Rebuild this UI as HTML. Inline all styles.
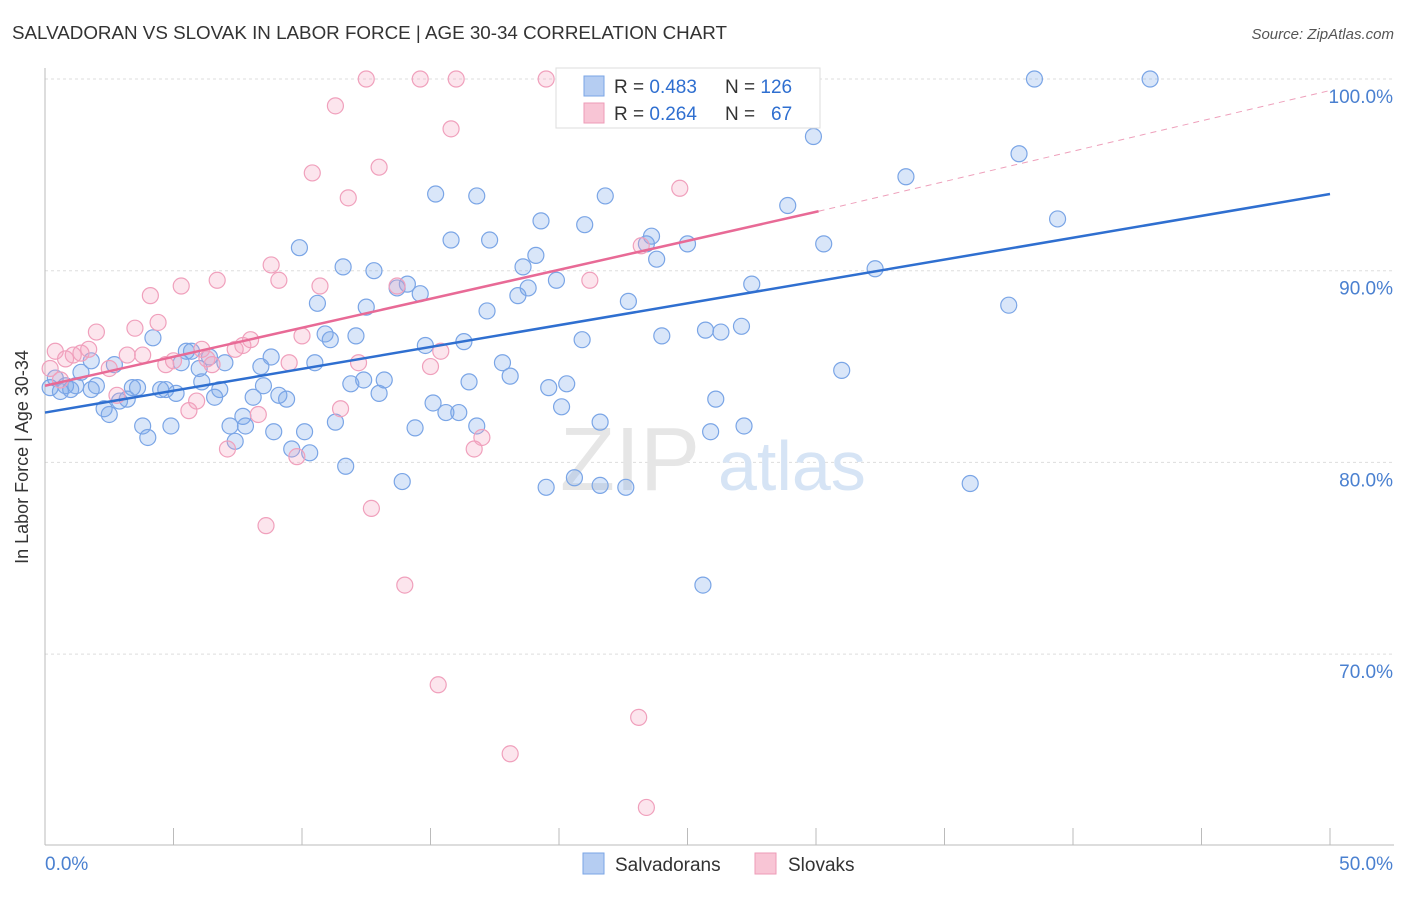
<!DOCTYPE html>
<html><head><meta charset="utf-8"><style>
body{margin:0;background:#fff;font-family:"Liberation Sans",sans-serif;}
svg text{font-family:"Liberation Sans",sans-serif;}
</style></head><body>
<svg id="chart" width="1406" height="892" xmlns="http://www.w3.org/2000/svg">
<text x="12" y="39" font-size="18.8" fill="#333">SALVADORAN VS SLOVAK IN LABOR FORCE | AGE 30-34 CORRELATION CHART</text>
<text x="1394" y="39" font-size="15" fill="#555" font-style="italic" text-anchor="end">Source: ZipAtlas.com</text>
<g id="grid"></g>
<text x="560" y="490" font-size="90" fill="#e6e6e6" font-family="Liberation Serif">ZIP</text>
<text x="718" y="490" font-size="70" fill="#d6e4f5">atlas</text>
<g id="axes"></g>
<g id="points"></g>
<g id="lines"></g>
<text x="28" y="457" font-size="18" fill="#333" text-anchor="middle" transform="rotate(-90 28 457)">In Labor Force | Age 30-34</text>
<g>
<rect x="556" y="68" width="264" height="60" fill="#fff" stroke="#ddd"/>
<rect x="584" y="76" width="20" height="20" fill="#b5cdf2" stroke="#7aa5e6"/>
<text x="614" y="93" font-size="19" fill="#333">R = <tspan fill="#2f6fd0">0.483</tspan></text>
<text x="725" y="93" font-size="19" fill="#333">N = <tspan fill="#2f6fd0">126</tspan></text>
<rect x="584" y="103" width="20" height="20" fill="#f8c5d5" stroke="#ee9bb7"/>
<text x="614" y="120" font-size="19" fill="#333">R = <tspan fill="#2f6fd0">0.264</tspan></text>
<text x="725" y="120" font-size="19" fill="#333">N = <tspan x="771" fill="#2f6fd0">67</tspan></text>
</g>
<g>
<rect x="583" y="853" width="21" height="21" fill="#b5cdf2" stroke="#7aa5e6"/>
<text x="615" y="871" font-size="19" fill="#333">Salvadorans</text>
<rect x="755" y="853" width="21" height="21" fill="#f8c5d5" stroke="#ee9bb7"/>
<text x="788" y="871" font-size="19" fill="#333">Slovaks</text>
</g>
</svg>
<script>
const blueX=[0.2,0.4,0.6,0.8,1.0,1.2,1.4,1.8,2.0,1.8,2.3,2.5,2.7,2.9,3.2,3.4,3.6,3.8,4.0,4.2,4.5,4.7,4.9,5.1,5.3,5.5,5.7,6.0,6.1,6.4,6.6,6.8,7.0,7.2,7.4,7.7,7.8,8.1,8.4,8.5,8.8,8.9,9.1,9.4,9.6,9.9,10.1,10.3,10.5,10.6,10.9,11.1,11.3,11.6,11.7,11.9,12.1,12.4,12.5,12.8,13.0,13.2,13.7,13.9,14.1,14.4,14.6,14.8,15.1,15.2,15.6,15.8,16.1,16.3,16.5,16.8,16.8,17.2,17.3,17.8,18.1,18.4,18.6,18.8,19.1,19.3,19.5,19.6,19.9,20.1,20.3,20.6,20.9,21.0,21.6,21.6,21.8,22.6,22.7,23.4,23.6,23.8,24.0,25.0,25.6,25.7,25.9,26.1,26.3,27.1,27.2,27.5,28.9,29.9,30.3,31.0,32.3,33.5,36.0,37.5,37.9,38.5,39.4,43.0];
const blueY=[83.9,84.4,83.7,84.0,83.8,84.0,84.7,83.8,84.0,85.3,82.8,82.5,85.1,83.2,83.3,83.9,83.9,81.9,81.3,86.5,83.8,83.8,81.9,83.6,85.2,85.8,85.8,84.9,84.2,85.5,83.4,83.8,85.2,81.9,81.1,82.4,81.9,83.4,85.0,84.0,85.5,81.6,83.5,83.3,80.7,91.2,81.6,80.5,85.2,88.3,86.7,86.4,82.1,90.2,79.8,84.1,86.6,84.3,88.1,90.0,83.6,84.3,89.1,79.0,89.3,81.8,88.8,86.1,83.1,94.0,82.6,91.6,82.6,86.3,84.2,81.9,93.9,87.9,91.6,85.2,84.5,88.7,90.2,89.1,90.8,92.6,78.7,83.9,89.5,82.9,84.1,79.2,86.4,92.4,82.1,78.8,93.9,78.7,88.4,91.4,91.8,90.6,86.6,91.4,73.6,86.9,81.6,83.3,86.8,87.1,81.9,89.3,93.4,97.0,91.4,84.8,90.1,94.9,78.9,88.2,96.1,100.0,92.7,100.0];
const pinkX=[0.2,0.4,0.6,0.8,1.1,1.4,1.7,2.0,2.5,2.8,3.2,3.5,3.8,4.1,4.4,4.7,5.0,5.3,5.6,5.9,6.1,6.3,6.5,6.7,7.1,7.4,7.7,8.0,8.3,8.6,8.8,9.1,9.5,9.8,10.0,10.4,10.7,11.3,11.5,11.8,12.2,12.5,12.7,13.0,13.7,14.0,14.6,15.0,15.3,15.4,15.8,16.0,16.7,17.0,18.1,19.5,20.6,20.7,21.2,23.1,23.4,24.7,27.4,28.2,23.2,23.8];
const pinkY=[84.9,85.8,84.3,85.4,85.6,85.7,85.9,86.8,84.9,83.5,85.6,87.0,85.6,88.7,87.3,85.1,85.3,89.2,82.7,83.2,85.9,85.4,85.1,89.5,80.7,85.9,86.1,86.4,82.5,76.7,90.3,89.5,85.2,80.3,86.6,95.1,89.2,98.6,82.8,93.8,85.2,100.0,77.6,95.4,89.2,73.6,100.0,85.0,68.4,85.8,97.4,100.0,80.7,81.3,64.8,100.0,100.0,100.0,89.5,66.7,62.0,94.3,100.0,100.0,91.3,100.0];
const yTicks=[100,90,80,70];
const yTickLabels=["100.0%","90.0%","80.0%","70.0%"];
const xTickVals=[0,5,10,15,20,25,30,35,40,45,50];
const blueLine=[[0,82.6],[50,94.0]];
const pinkLine=[[0,84.0],[30.1,93.1]];
const pinkDash=[[30.1,93.1],[50,99.4]];
const NS="http://www.w3.org/2000/svg";
const X=v=>45+v*25.7, Y=v=>79+(100-v)*19.17;
function mk(t,a,p){const e=document.createElementNS(NS,t);for(const k in a)e.setAttribute(k,a[k]);p.appendChild(e);return e;}
const grid=document.getElementById('grid'),axes=document.getElementById('axes'),pts=document.getElementById('points'),ln=document.getElementById('lines');
yTicks.forEach((v,i)=>{
 const l=mk('line',{x1:45,x2:1394,y1:Y(v),y2:Y(v),stroke:'#ddd','stroke-dasharray':'3,3'},grid);
 
 
 const t=mk('text',{x:1393,y:Y(v)+24,'font-size':19,fill:'#4a80d0','text-anchor':'end'},axes);t.textContent=yTickLabels[i];
 
 
});
let a=mk('line',{x1:45,x2:45,y1:68,y2:845,stroke:'#bbb'},axes);


a=mk('line',{x1:45,x2:1394,y1:845,y2:845,stroke:'#bbb'},axes);


xTickVals.forEach(v=>{const t=mk('line',{x1:X(v),x2:X(v),y1:828,y2:845,stroke:'#bbb'},axes);
 
 });
let t=mk('text',{x:45,y:870,'font-size':19,fill:'#4a80d0'},axes);t.textContent='0.0%';


t=mk('text',{x:1393,y:870,'font-size':19,fill:'#4a80d0','text-anchor':'end'},axes);t.textContent='50.0%';


blueX.forEach((x,i)=>{const c=mk('circle',{cx:X(x),cy:Y(blueY[i]),r:8,fill:'rgba(120,165,235,0.28)',stroke:'#7aa5e6','stroke-width':1.2},pts);
 
 });
pinkX.forEach((x,i)=>{const c=mk('circle',{cx:X(x),cy:Y(pinkY[i]),r:8,fill:'rgba(245,160,190,0.28)',stroke:'#f0a0bc','stroke-width':1.2},pts);
 
 });
let L=mk('line',{x1:X(blueLine[0][0]),y1:Y(blueLine[0][1]),x2:X(blueLine[1][0]),y2:Y(blueLine[1][1]),stroke:'#2f6fd0','stroke-width':2.5},ln);


L=mk('line',{x1:X(pinkLine[0][0]),y1:Y(pinkLine[0][1]),x2:X(pinkLine[1][0]),y2:Y(pinkLine[1][1]),stroke:'#e86a96','stroke-width':2.5},ln);


L=mk('line',{x1:X(pinkDash[0][0]),y1:Y(pinkDash[0][1]),x2:X(pinkDash[1][0]),y2:Y(pinkDash[1][1]),stroke:'#eea0bb','stroke-width':1,'stroke-dasharray':'6,5'},ln);


</script>
</body></html>
